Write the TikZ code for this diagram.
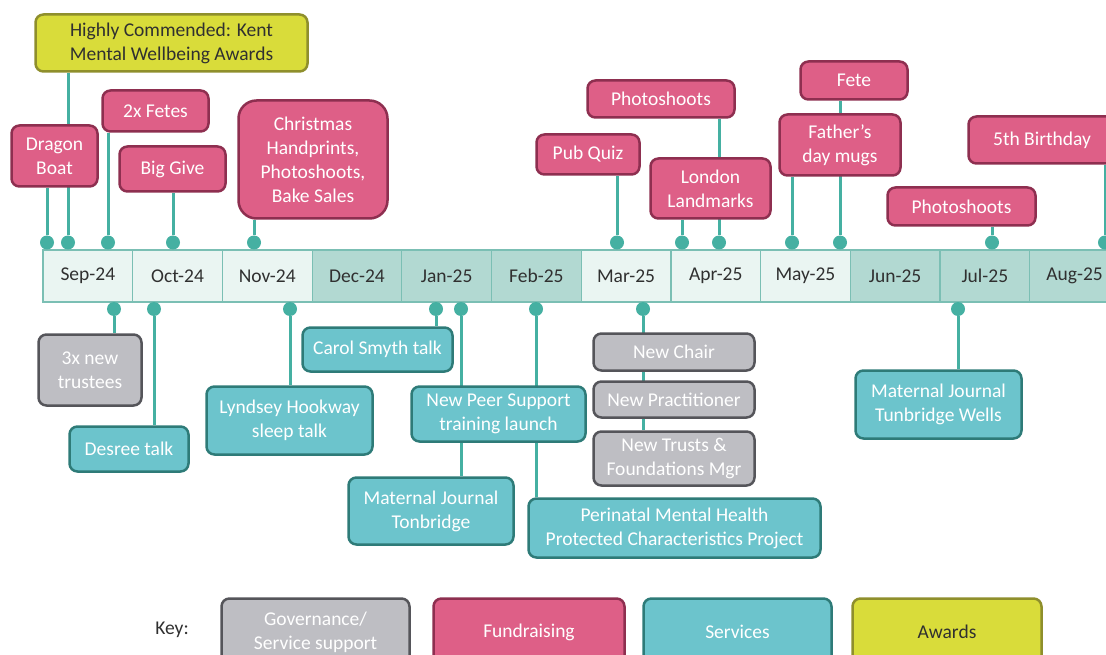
\documentclass[tikz,border=0pt]{standalone}
\usepackage{fontspec}
\setmainfont{Carlito}
\usetikzlibrary{backgrounds}

\definecolor{fundfill}{HTML}{DE5F87}
\definecolor{fundline}{HTML}{8E2F50}
\definecolor{servfill}{HTML}{6CC4CC}
\definecolor{servline}{HTML}{2E7B78}
\definecolor{govfill}{HTML}{BEBEC3}
\definecolor{govline}{HTML}{55555A}
\definecolor{awardfill}{HTML}{D9DC3A}
\definecolor{awardline}{HTML}{8F8F2C}
\definecolor{lightmonth}{HTML}{EAF5F2}
\definecolor{darkmonth}{HTML}{B2D9D2}
\definecolor{barline}{HTML}{7BBFB4}
\definecolor{pincol}{HTML}{45B0A2}
\definecolor{textdark}{HTML}{303030}

\newcommand{\tlfont}{\fontsize{19.5}{24}\selectfont}

\begin{document}
\begin{tikzpicture}[
        x=1pt, y=-1pt,
        box/.style={draw, line width=2.5pt, rounded corners=8pt, align=center, inner sep=0pt, font=\tlfont},
        fund/.style={box, fill=fundfill, draw=fundline, text=white},
        serv/.style={box, fill=servfill, draw=servline, text=white},
        gov/.style={box, fill=govfill, draw=govline, text=white},
        award/.style={box, fill=awardfill, draw=awardline, text=textdark},
        month/.style={draw=barline, line width=1.2pt, minimum width=89.7pt, minimum height=52pt, inner sep=0pt, outer sep=0pt, font=\tlfont, text=textdark},
        pin/.style={circle, fill=pincol, minimum size=14pt, inner sep=0pt},
        stem/.style={draw=pincol, line width=3pt},
    ]
        \useasboundingbox (0, 0) rectangle (1106, 655);

        % timeline
        \node[month, fill=lightmonth] (sep) at (87.85, 276) {Sep-24};
        \node[month, fill=lightmonth] (oct) at (177.55, 276) {Oct-24};
        \node[month, fill=lightmonth] (nov) at (267.25, 276) {Nov-24};
        \node[month, fill=darkmonth] (dec) at (356.95, 276) {Dec-24};
        \node[month, fill=darkmonth] (jan) at (446.65, 276) {Jan-25};
        \node[month, fill=darkmonth] (feb) at (536.35, 276) {Feb-25};
        \node[month, fill=lightmonth] (mar) at (626.05, 276) {Mar-25};
        \node[month, fill=lightmonth] (apr) at (715.75, 276) {Apr-25};
        \node[month, fill=lightmonth] (may) at (805.45, 276) {May-25};
        \node[month, fill=darkmonth] (jun) at (895.15, 276) {Jun-25};
        \node[month, fill=darkmonth] (jul) at (984.85, 276) {Jul-25};
        \node[month, fill=darkmonth] (aug) at (1074.55, 276) {Aug-25};

        % pins above
        \node[pin] (pDragon) at (47, 242.5) {};
        \node[pin] (pKent) at (68, 242.5) {};
        \node[pin] (pFetes) at (108, 242.5) {};
        \node[pin] (pGive) at (173, 242.5) {};
        \node[pin] (pXmas) at (254, 242.5) {};
        \node[pin] (pQuiz) at (617, 242.5) {};
        \node[pin] (pLondon) at (682, 242.5) {};
        \node[pin] (pPhotoA) at (719, 242.5) {};
        \node[pin] (pMugs) at (792, 242.5) {};
        \node[pin] (pFete) at (840, 242.5) {};
        \node[pin] (pPhotoJ) at (992, 242.5) {};
        \node[pin] (pBday) at (1105, 242.5) {};

        % pins below
        \node[pin] (pTrust) at (114, 309) {};
        \node[pin] (pDesree) at (154, 309) {};
        \node[pin] (pLynd) at (290, 309) {};
        \node[pin] (pCarol) at (436, 309) {};
        \node[pin] (pPeer) at (461, 309) {};
        \node[pin] (pPeri) at (536, 309) {};
        \node[pin] (pChair) at (643, 309) {};
        \node[pin] (pWells) at (958, 309) {};

        % events above
        \node[award, minimum width=272pt, minimum height=57pt] (kent) at (171.5, 43) {Highly Commended: Kent\\Mental Wellbeing Awards};
        \node[fund, minimum width=86pt, minimum height=61pt] (dragon) at (54.5, 156) {Dragon\\Boat};
        \node[fund, minimum width=106pt, minimum height=41pt] (fetes) at (155.5, 111) {2x Fetes};
        \node[fund, minimum width=106pt, minimum height=45pt] (give) at (172.5, 169) {Big Give};
        \node[fund, rounded corners=18pt, minimum width=149pt, minimum height=118pt] (xmas) at (313, 159.5) {Christmas\\Handprints,\\Photoshoots,\\Bake Sales};
        \node[fund, minimum width=147pt, minimum height=37pt] (photoA) at (661, 99) {Photoshoots};
        \node[fund, minimum width=103pt, minimum height=40pt] (quiz) at (588, 154.5) {Pub Quiz};
        \node[fund, minimum width=120pt, minimum height=60pt] (london) at (710.5, 188.5) {London\\Landmarks};
        \node[fund, minimum width=107pt, minimum height=38pt] (fete) at (854, 80.5) {Fete};
        \node[fund, minimum width=121pt, minimum height=61pt] (mugs) at (840, 145) {Father’s\\day mugs};
        \node[fund, minimum width=147pt, minimum height=47pt] (bday) at (1042, 140) {5th Birthday};
        \node[fund, minimum width=148pt, minimum height=38pt] (photoJ) at (961.5, 206.5) {Photoshoots};

        % events below
        \node[gov, minimum width=103pt, minimum height=71pt] (trust) at (90, 370) {3x new\\trustees};
        \node[serv, minimum width=119pt, minimum height=45pt] (desree) at (129, 449) {Desree talk};
        \node[serv, minimum width=166pt, minimum height=68pt] (lynd) at (289.5, 420.5) {Lyndsey Hookway\\sleep talk};
        \node[serv, minimum width=150pt, minimum height=44pt] (carol) at (377.5, 349.5) {Carol Smyth talk};
        \node[serv, minimum width=174pt, minimum height=55pt] (peer) at (498.5, 414) {New Peer Support\\training launch};
        \node[serv, minimum width=165pt, minimum height=67pt] (tonb) at (431, 511) {Maternal Journal\\Tonbridge};
        \node[serv, minimum width=292pt, minimum height=59pt] (peri) at (674.5, 528) {Perinatal Mental Health\\Protected Characteristics Project};
        \node[gov, minimum width=161pt, minimum height=37pt] (chair) at (674, 352) {New Chair};
        \node[gov, minimum width=161pt, minimum height=36pt] (pract) at (674, 399.5) {New Practitioner};
        \node[gov, minimum width=161pt, minimum height=54pt] (trusts) at (674, 458.5) {New Trusts \&\\Foundations Mgr};
        \node[serv, minimum width=166pt, minimum height=68pt] (wells) at (938.5, 404.5) {Maternal Journal\\Tunbridge Wells};

        % key
        \node[font=\tlfont, text=textdark] (keylabel) at (172, 630) {Key:};
        \node[gov, minimum width=188pt, minimum height=67pt] (kgov) at (315.5, 632) {Governance/\\Service support};
        \node[fund, minimum width=191pt, minimum height=67pt] (kfund) at (529, 632) {Fundraising};
        \node[serv, minimum width=188pt, minimum height=67pt] (kserv) at (737.5, 632) {Services};
        \node[award, minimum width=189pt, minimum height=67pt] (kaward) at (947, 632) {Awards};

        % stems
        \begin{scope}[on background layer]
            \draw[stem] (pDragon) -- (pDragon |- dragon.south);
            \draw[stem] (pKent) -- (pKent |- kent.south);
            \draw[stem] (pFetes) -- (pFetes |- fetes.south);
            \draw[stem] (pGive) -- (pGive |- give.south);
            \draw[stem] (pXmas) -- (pXmas |- xmas.south);
            \draw[stem] (pQuiz) -- (pQuiz |- quiz.south);
            \draw[stem] (pLondon) -- (pLondon |- london.south);
            \draw[stem] (pPhotoA) -- (pPhotoA |- photoA.south);
            \draw[stem] (pMugs) -- (pMugs |- mugs.south);
            \draw[stem] (pFete) -- (pFete |- fete.south);
            \draw[stem] (pPhotoJ) -- (pPhotoJ |- photoJ.south);
            \draw[stem] (pBday) -- (pBday |- bday.south);
            \draw[stem] (pTrust) -- (pTrust |- trust.north);
            \draw[stem] (pDesree) -- (pDesree |- desree.north);
            \draw[stem] (pLynd) -- (pLynd |- lynd.north);
            \draw[stem] (pCarol) -- (pCarol |- carol.north);
            \draw[stem] (pPeer) -- (pPeer |- tonb.north);
            \draw[stem] (pPeri) -- (pPeri |- peri.north);
            \draw[stem] (pChair) -- (pChair |- trusts.north);
            \draw[stem] (pWells) -- (pWells |- wells.north);
        \end{scope}
    \end{tikzpicture}
\end{document}
